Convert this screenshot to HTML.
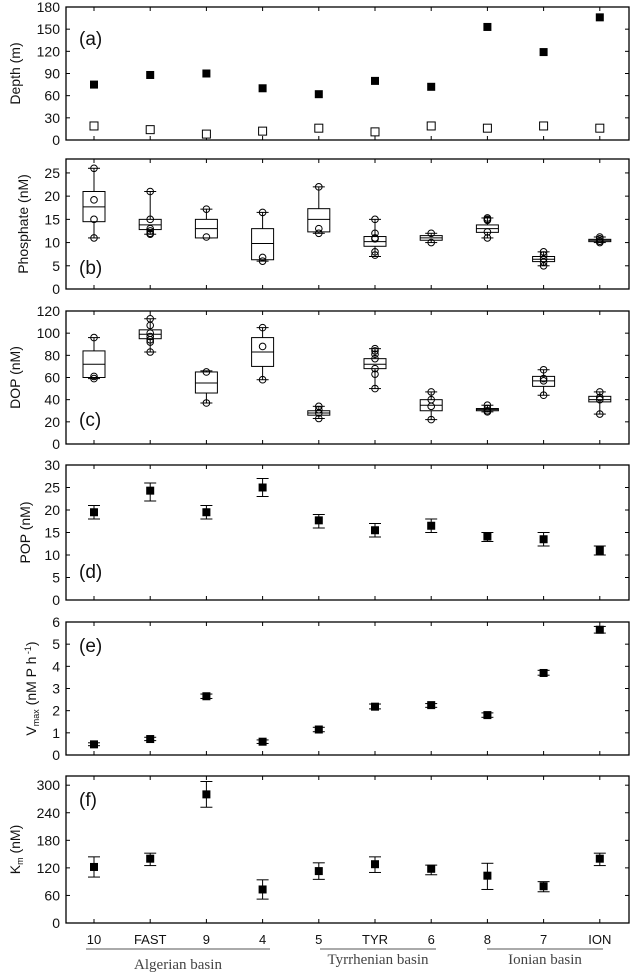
<!DOCTYPE html>
<html><head><meta charset="utf-8"><style>
body{margin:0;background:#fff}
svg{display:block}
text{font-family:"Liberation Sans",Arial,sans-serif;fill:#111}
</style></head><body>
<svg id="c" width="632" height="976" viewBox="0 0 632 976"></svg>
<script>
const stations=["10","FAST","9","4","5","TYR","6","8","7","ION"];
const depthFilled=[75,88,90,70,62,80,72,153,119,166];
const depthOpen=[19,14,8,12,16,11,19,16,19,16];
// box: [wmin,q1,med,q3,wmax]
const phosBox=[[11,14.5,17.7,21,26],[11.8,12.8,13.8,15,21],[11,11,13,15,17.2],[6,6.3,9.8,13,16.5],[12,12.3,15,17.3,22],[7,9.2,10.2,11.3,15],[10,10.5,11,11.5,12],[11,12.2,13,13.8,15.3],[5,5.9,6.4,7,8],[10,10.2,10.5,10.7,11.2]];
const phosPts=[[26,19.2,15,11],[21,15,13,12.5,12,11.8],[17.2,11.2],[16.5,6.8,6],[22,13,12],[15,12,11,10.8,8,7.3],[12,10],[15.3,15,14.8,12.3,11],[8,7.3,6.5,5.8,5],[11.2,10.8,10.3,10]];
const dopBox=[[59,60,72,84,96],[83,95,99,103,113],[37,46,55,65,66],[58,70,83,96,105],[23,26,28,30,34],[50,68,72,77,86],[22,30,35,40,47],[29,30,31,32,35],[44,52,57,61,67],[27,38,40,43,47]];
const dopPts=[[96,61,59],[113,107,100,97,94,92,83],[65,37],[105,88,58],[34,31,28,23],[86,84,81,77,68,63,50],[47,40,34,22],[35,32,30,29],[67,59,57,44],[47,42,40,27]];
const popMean=[19.5,24.3,19.5,25,17.7,15.5,16.5,14.1,13.5,11];
const popLo=[18,22,18,23,16,14,15,13,12,10];
const popHi=[21,26,21,27,19,17,18,15,15,12];
const vmaxMean=[0.48,0.72,2.65,0.6,1.15,2.18,2.25,1.8,3.7,5.65];
const vmaxLo=[0.42,0.65,2.55,0.52,1.05,2.08,2.15,1.7,3.6,5.5];
const vmaxHi=[0.55,0.8,2.75,0.68,1.25,2.3,2.32,1.9,3.82,5.8];
const kmMean=[122,140,280,73,113,128,118,103,80,140];
const kmLo=[100,125,252,52,95,110,105,73,68,125];
const kmHi=[144,152,308,94,131,144,126,130,90,152];
const ticksA=[0,30,60,90,120,150,180],ticksB=[0,5,10,15,20,25],ticksC=[0,20,40,60,80,100,120],ticksD=[0,5,10,15,20,25,30],ticksE=[0,1,2,3,4,5,6],ticksF=[0,60,120,180,240,300];

const svg=document.getElementById('c');const NS='http://www.w3.org/2000/svg';
function mk(t,a,p){const e=document.createElementNS(NS,t);for(const k in a)e.setAttribute(k,a[k]);(p||svg).appendChild(e);return e;}
const X0=66,X1=629;
const x=i=>94+i*56.2;
function panel(name,top,bot,max,ticks,title,letter,lx,ly,tx){
  const g=mk('g',{});
  
  
  const y=v=>bot-(v/max)*(bot-top);
  const fr=mk('rect',{x:X0,y:top,width:X1-X0,height:bot-top,fill:'none',stroke:'#000','stroke-width':1.3},g);
  
  ticks.forEach(t=>{const yy=y(t);
    mk('line',{x1:X0,x2:X0+4,y1:yy,y2:yy,stroke:'#000'},g);
    mk('line',{x1:X1,x2:X1-4,y1:yy,y2:yy,stroke:'#000'},g);
    const l=mk('text',{x:X0-6,y:yy+5,'text-anchor':'end','font-size':14},g);l.textContent=t;
    });
  stations.forEach((s,i)=>{mk('line',{x1:x(i),x2:x(i),y1:top,y2:top+4,stroke:'#000'},g);mk('line',{x1:x(i),x2:x(i),y1:bot,y2:bot-4,stroke:'#000'},g);});
  const tt=mk('text',{transform:`translate(${tx},${(top+bot)/2}) rotate(-90)`,'text-anchor':'middle','font-size':14},g);tt.innerHTML=title;
  
  const lt=mk('text',{x:lx,y:ly,'font-size':19},g);lt.textContent=letter;
  
  return {g,y};
}
function boxes(p,B,P){B.forEach((b,i)=>{const cx=x(i);const gg=mk('g',{},p.g);
  
  mk('line',{x1:cx,x2:cx,y1:p.y(b[0]),y2:p.y(b[4]),stroke:'#000'},gg);
  [b[0],b[4]].forEach(v=>mk('line',{x1:cx-6,x2:cx+6,y1:p.y(v),y2:p.y(v),stroke:'#000'},gg));
  mk('rect',{x:cx-11,y:p.y(b[3]),width:22,height:p.y(b[1])-p.y(b[3]),fill:'#fff',stroke:'#000'},gg);
  mk('line',{x1:cx-11,x2:cx+11,y1:p.y(b[2]),y2:p.y(b[2]),stroke:'#000'},gg);
  P[i].forEach(v=>mk('circle',{cx:cx,cy:p.y(v),r:3.3,fill:'none',stroke:'#000'},gg));});}
function errs(p,M,L,H,nm){M.forEach((m,i)=>{const cx=x(i);const gg=mk('g',{},p.g);
  
  mk('line',{x1:cx,x2:cx,y1:p.y(L[i]),y2:p.y(H[i]),stroke:'#000'},gg);
  [L[i],H[i]].forEach(v=>mk('line',{x1:cx-6,x2:cx+6,y1:p.y(v),y2:p.y(v),stroke:'#000'},gg));
  mk('rect',{x:cx-4,y:p.y(m)-4,width:8,height:8,fill:'#000'},gg);});}

const pa=panel('panel-a-depth',7,140,180,ticksA,'Depth (m)','(a)',79,45,20);
depthFilled.forEach((v,i)=>{const r=mk('rect',{x:x(i)-4,y:pa.y(v)-4,width:8,height:8,fill:'#000'},pa.g);
  });
depthOpen.forEach((v,i)=>{const r=mk('rect',{x:x(i)-4,y:pa.y(v)-4,width:8,height:8,fill:'#fff',stroke:'#000'},pa.g);
  });
const pb=panel('panel-b-phosphate',159,289,28,ticksB,'Phosphate (nM)','(b)',79,274,28);boxes(pb,phosBox,phosPts);
const pc=panel('panel-c-dop',311,444,120,ticksC,'DOP (nM)','(c)',79,426,20);boxes(pc,dopBox,dopPts);
const pd=panel('panel-d-pop',465,600,30,ticksD,'POP (nM)','(d)',79,578,30);errs(pd,popMean,popLo,popHi,'pop');
const pe=panel('panel-e-vmax',622,755,6,ticksE,'V<tspan font-size="9" dy="3">max</tspan><tspan dy="-3"> (nM P h</tspan><tspan font-size="9" dy="-5"> -1</tspan><tspan dy="5">)</tspan>','(e)',79,652,36);errs(pe,vmaxMean,vmaxLo,vmaxHi,'vmax');
const pf=panel('panel-f-km',776,923,320,ticksF,'K<tspan font-size="9" dy="3">m</tspan><tspan dy="-3"> (nM)</tspan>','(f)',79,806,20);errs(pf,kmMean,kmLo,kmHi,'km');

stations.forEach((s,i)=>{const t=mk('text',{x:x(i),y:944,'text-anchor':'middle','font-size':13});t.textContent=s;
  });
[['Algerian basin',86,270,969],['Tyrrhenian basin',320,436,964],['Ionian basin',487,603,964]].forEach(b=>{
  const l=mk('line',{x1:b[1],x2:b[2],y1:949,y2:949,stroke:'#555'});
  
  const t=mk('text',{x:(b[1]+b[2])/2,y:b[3],'text-anchor':'middle','font-size':15,style:'font-family:"Liberation Serif",serif;fill:#444'});t.textContent=b[0];
  });
</script>
</body></html>
